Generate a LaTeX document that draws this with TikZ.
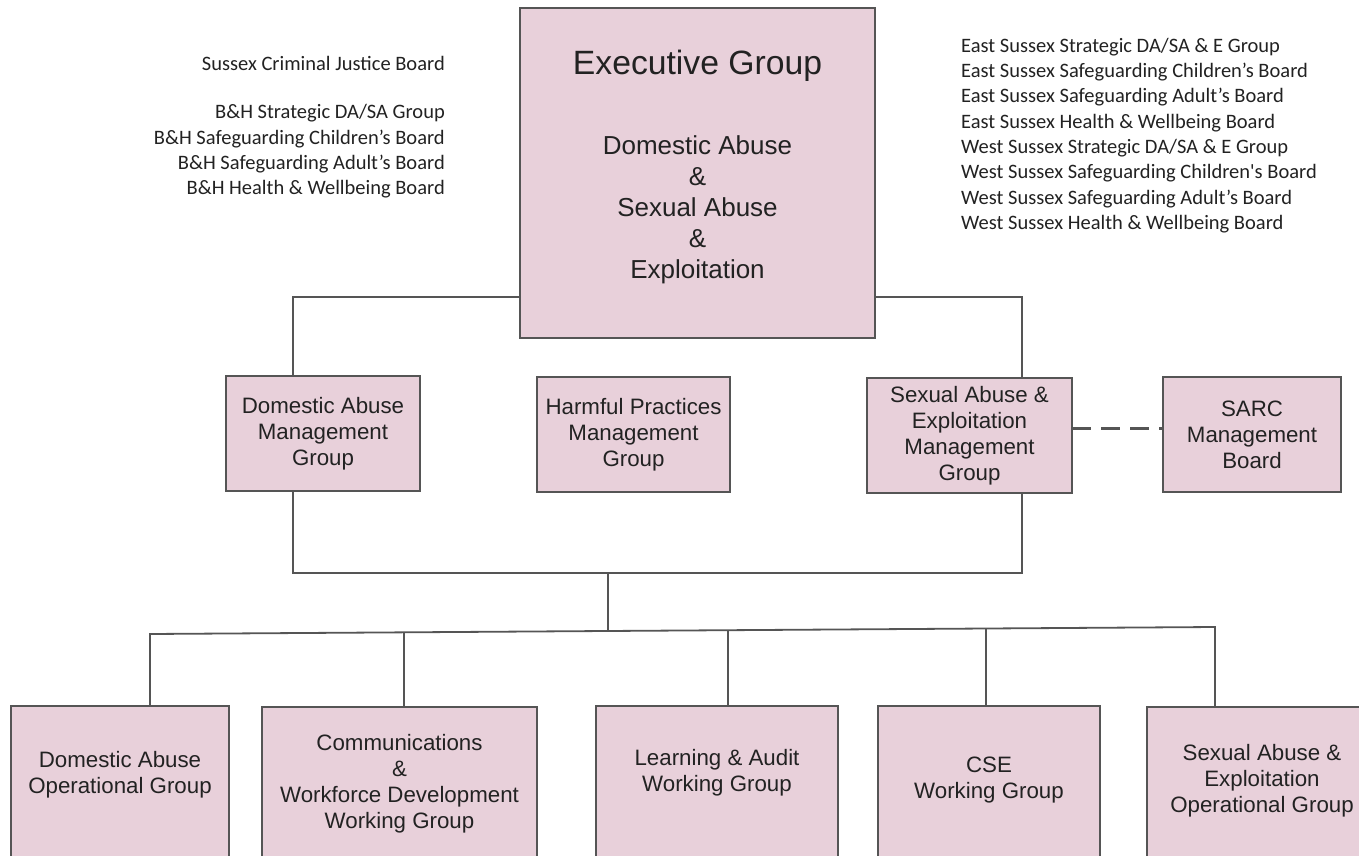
\documentclass[tikz,border=0pt]{standalone}
\usepackage{fontspec}
\setmainfont{Liberation Sans}
\newfontfamily\calibrifont{Carlito}
\definecolor{boxfill}{RGB}{232,208,218}
\definecolor{edge}{RGB}{85,85,85}
\definecolor{txt}{RGB}{34,34,34}
\tikzset{
  box/.style={draw=edge, line width=1.8pt, fill=boxfill, inner sep=0pt, outer sep=0pt},
  boxtext/.style={align=center, text=txt, font=\fontsize{22.3}{26}\selectfont, inner sep=0pt},
  side/.style={text=txt, font=\calibrifont\fontsize{20.5}{25.3}\selectfont, inner sep=0pt},
  link/.style={draw=edge, line width=1.8pt},
  dashlink/.style={draw=edge, line width=3pt, dash pattern=on 19pt off 10pt},
}
\begin{document}
\begin{tikzpicture}[x=1pt, y=-1pt]
\useasboundingbox[fill=white] (0,0) rectangle (1359,856);
\begin{scope}
\clip (0,0) rectangle (1359,856);
% side texts
\node[side, anchor=east] (cjb) at (445,63) {Sussex Criminal Justice Board};
\node[side, align=right, anchor=east] (bh) at (445,151.5) {B\&H Strategic DA/SA Group\\B\&H Safeguarding Children’s Board\\B\&H Safeguarding Adult’s Board\\B\&H Health \& Wellbeing Board};
\node[side, align=left, anchor=west] (es) at (961,135.5) {East Sussex Strategic DA/SA \& E Group\\East Sussex Safeguarding Children’s Board\\East Sussex Safeguarding Adult’s Board\\East Sussex Health \& Wellbeing Board\\West Sussex Strategic DA/SA \& E Group\\West Sussex Safeguarding Children's Board\\West Sussex Safeguarding Adult’s Board\\West Sussex Health \& Wellbeing Board};
% executive
\node[box, minimum width=355pt, minimum height=330pt] (exec) at (697.5,173) {};
\node[boxtext, font=\fontsize{33.7}{38}\selectfont] (exect) at (697.5,66) {Executive Group};
\node[boxtext, font=\fontsize{26}{31}\selectfont] (execsub) at (697.5,210) {Domestic Abuse\\\&\\Sexual Abuse\\\&\\Exploitation};
% management
\node[box, boxtext, minimum width=194pt, minimum height=115pt] (dam) at (323,433.5) {Domestic Abuse\\Management\\Group};
\node[box, boxtext, minimum width=193pt, minimum height=115pt] (hpm) at (633.5,434.5) {Harmful Practices\\Management\\Group};
\node[box, boxtext, minimum width=205pt, minimum height=115pt] (saem) at (969.5,435.5) {Sexual Abuse \&\\Exploitation\\Management\\Group};
\node[box, boxtext, minimum width=178pt, minimum height=115pt] (sarc) at (1252,434.5) {SARC\\Management\\Board};
% bottom
\node[box, minimum width=218pt, minimum height=200pt, anchor=north] (daop) at (120,706) {};
\node[box, minimum width=275pt, minimum height=200pt, anchor=north] (comms) at (399.5,707) {};
\node[box, minimum width=242pt, minimum height=200pt, anchor=north] (learn) at (717,706) {};
\node[box, minimum width=222pt, minimum height=200pt, anchor=north] (cse) at (989,706) {};
\node[box, minimum width=230pt, minimum height=200pt, anchor=north] (saeop) at (1262,707) {};
\node[boxtext] (daopt) at (120,775) {Domestic Abuse\\Operational Group};
\node[boxtext] (commst) at (399.5,784) {Communications\\\&\\Workforce Development\\Working Group};
\node[boxtext] (learnt) at (717,773) {Learning \& Audit\\Working Group};
\node[boxtext] (cset) at (989,780) {CSE\\Working Group};
\node[boxtext] (saeopt) at (1262,781) {Sexual Abuse \&\\Exploitation\\Operational Group};
% connectors
\coordinate (j) at (608,573);
\coordinate (k) at (608,631);
\coordinate (bl) at (150,634);
\coordinate (br) at (1215,627);
\coordinate (b2) at (404,632.5);
\coordinate (b3) at (728,630);
\coordinate (b4) at (986,628.5);
\draw[link] (exec.west |- 0,297) -| (dam.north -| 293,0);
\draw[link] (exec.east |- 0,297) -| (saem.north -| 1022,0);
\draw[link] (dam.south -| 293,0) |- (j) -| (saem.south -| 1022,0);
\draw[link] (j) -- (k);
\draw[link] (daop.north -| bl) -- (bl) -- (br) -- (saeop.north -| br);
\draw[link] (comms.north -| b2) -- (b2);
\draw[link] (learn.north -| b3) -- (b3);
\draw[link] (cse.north -| b4) -- (b4);
\draw[dashlink] (saem.east |- 0,428) -- (sarc.west |- 0,428);
\end{scope}
\end{tikzpicture}
\end{document}
